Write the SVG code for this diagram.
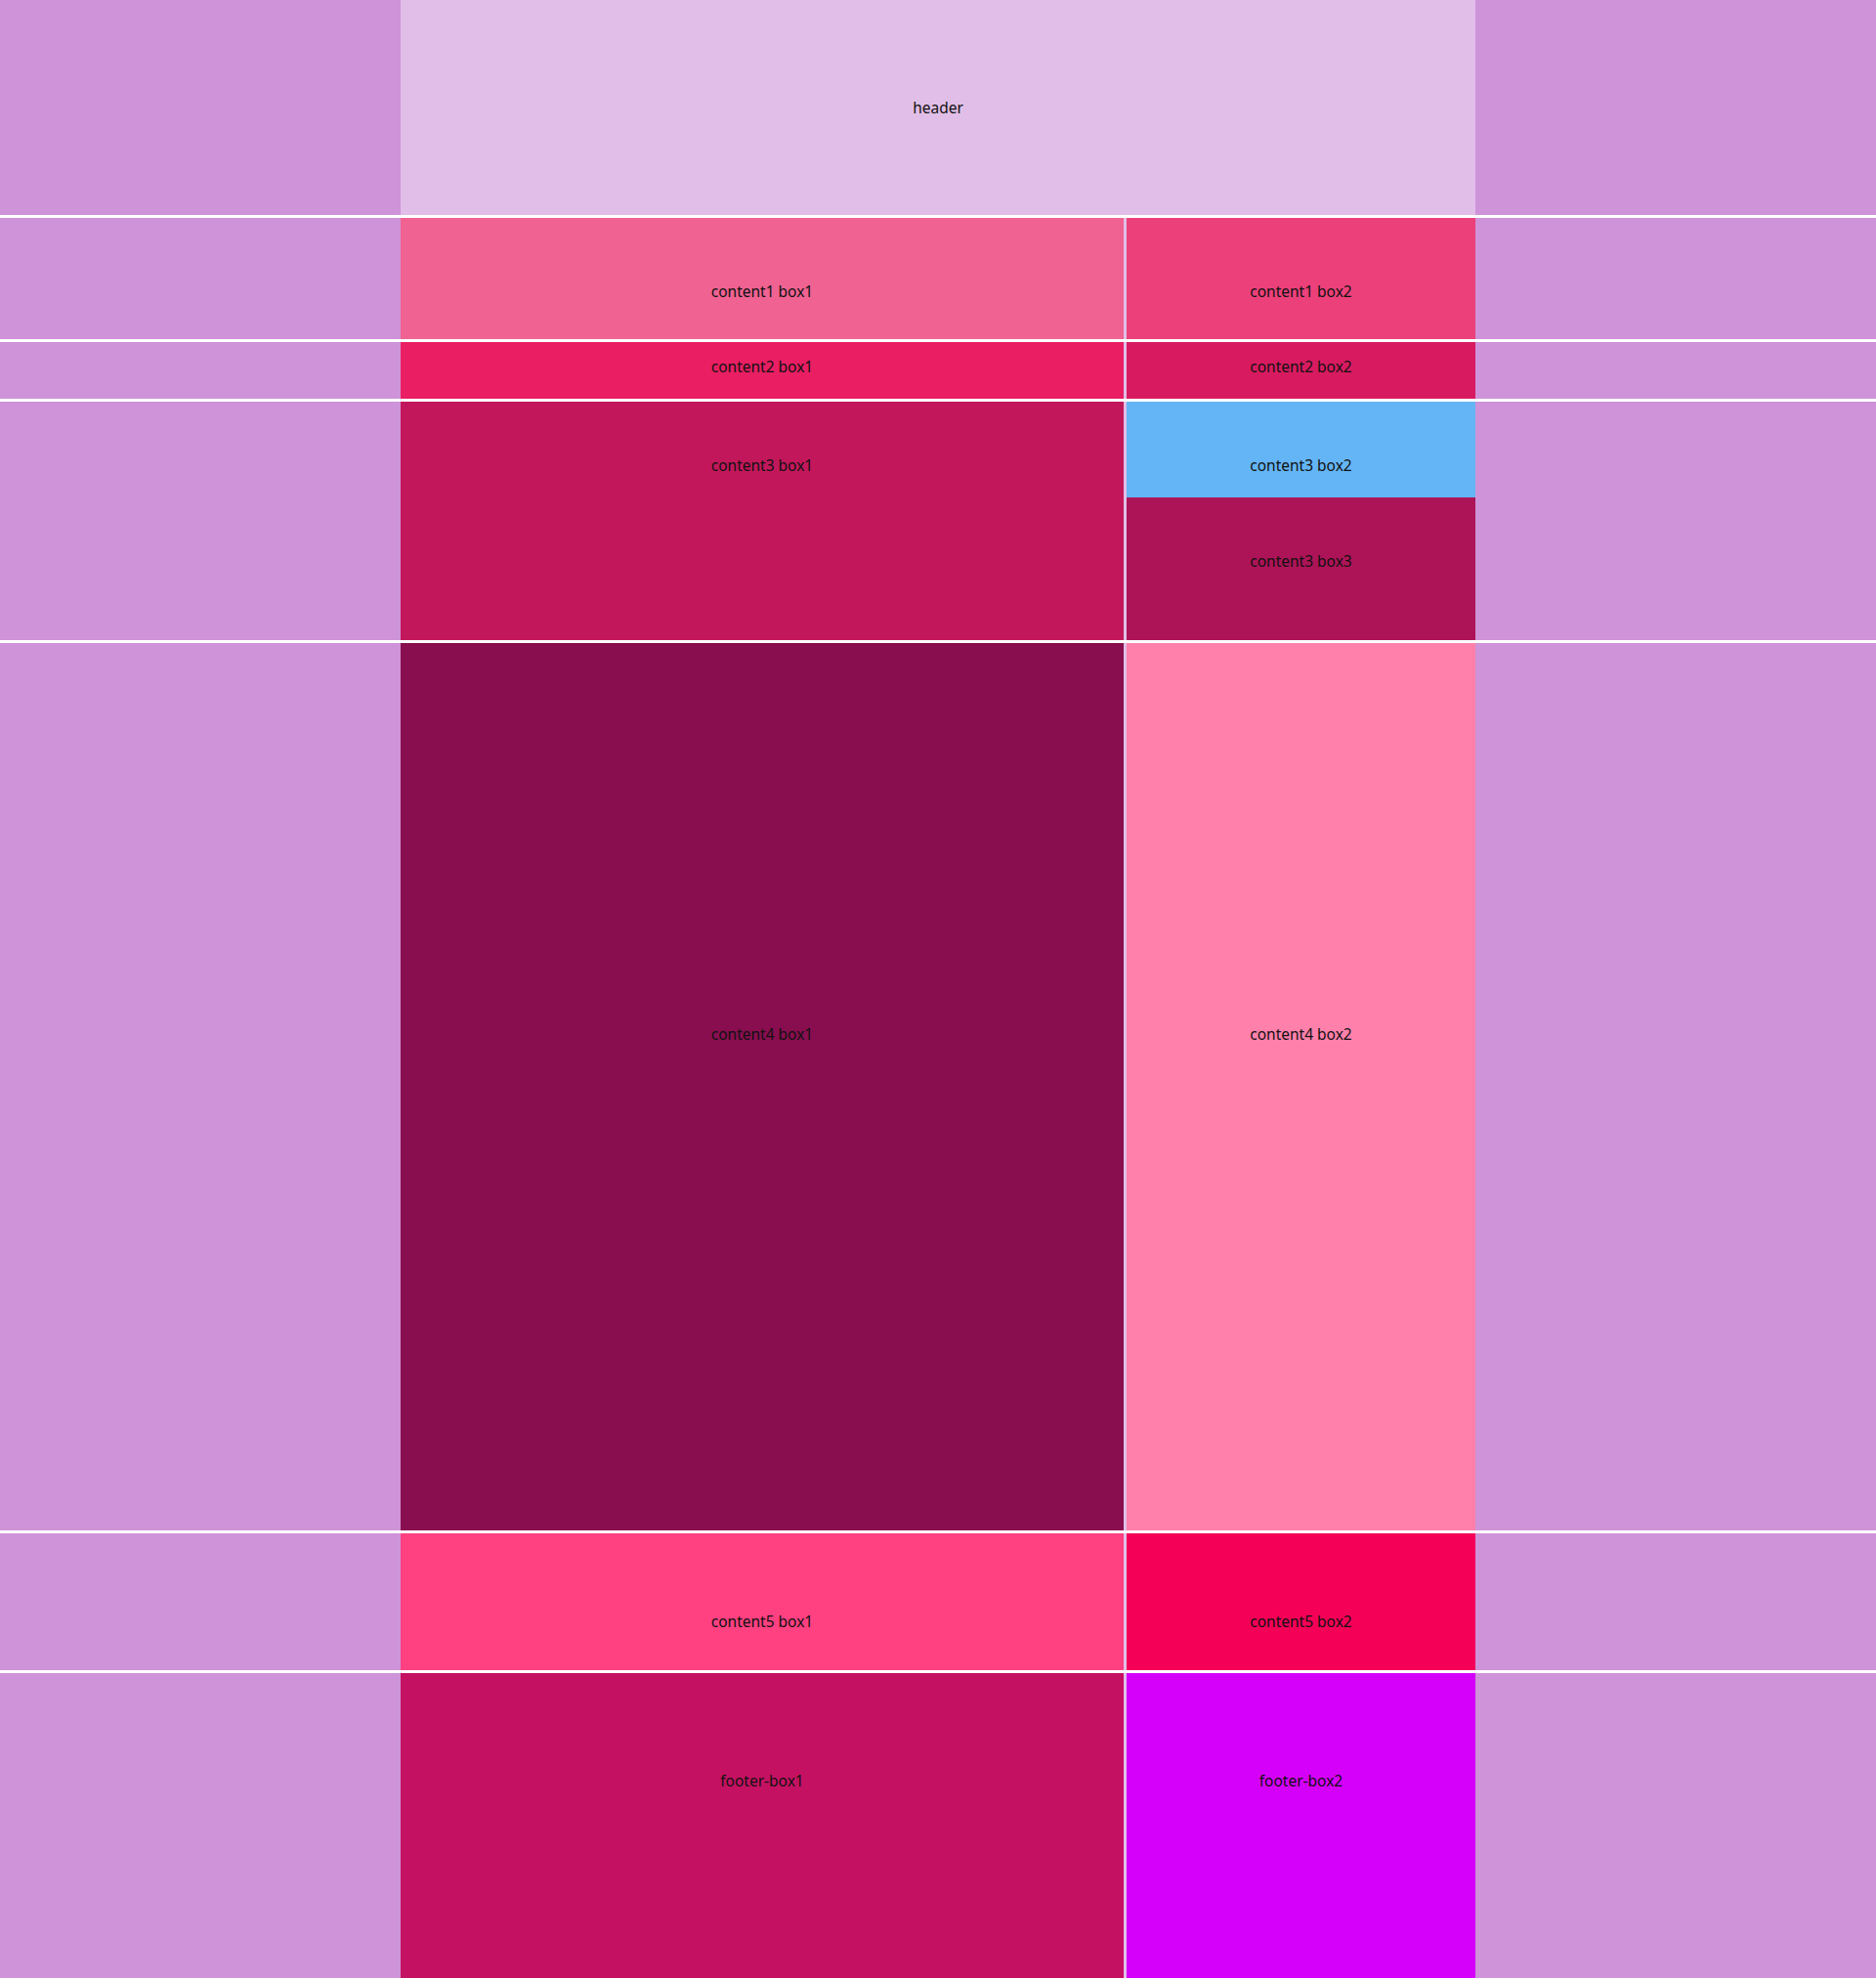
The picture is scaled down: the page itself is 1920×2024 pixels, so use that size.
<svg xmlns="http://www.w3.org/2000/svg" width="1920" height="2024" viewBox="0 0 1920 2024">
<style>
.side{fill:#ce93d8}
.gap{fill:#e1bee7}
text{font-family:"Noto Sans","Open Sans","DejaVu Sans",sans-serif;font-size:15.5px;fill:#111;text-anchor:middle}
</style>
<rect x="0" y="0" width="1920" height="2024" fill="#ffffff"/>
<g id="sides">
<rect class="side" x="0" y="0" width="410" height="220"/><rect class="side" x="1510" y="0" width="410" height="220"/>
<rect class="side" x="0" y="223" width="410" height="124"/><rect class="side" x="1510" y="223" width="410" height="124"/>
<rect class="side" x="0" y="350" width="410" height="58"/><rect class="side" x="1510" y="350" width="410" height="58"/>
<rect class="side" x="0" y="411" width="410" height="244"/><rect class="side" x="1510" y="411" width="410" height="244"/>
<rect class="side" x="0" y="658" width="410" height="908"/><rect class="side" x="1510" y="658" width="410" height="908"/>
<rect class="side" x="0" y="1569" width="410" height="140"/><rect class="side" x="1510" y="1569" width="410" height="140"/>
<rect class="side" x="0" y="1712" width="410" height="312"/><rect class="side" x="1510" y="1712" width="410" height="312"/>
</g>
<g id="gaps">
<rect class="gap" x="1150" y="223" width="3" height="124"/>
<rect class="gap" x="1150" y="350" width="3" height="58"/>
<rect class="gap" x="1150" y="411" width="3" height="244"/>
<rect class="gap" x="1150" y="658" width="3" height="908"/>
<rect class="gap" x="1150" y="1569" width="3" height="140"/>
<rect class="gap" x="1150" y="1712" width="3" height="312"/>
</g>
<g id="header"><rect x="410" y="0" width="1100" height="220" fill="#e1bee7"/><text x="960" y="116">header</text></g>
<g id="content1-box1"><rect x="410" y="223" width="740" height="124" fill="#f06292"/><text x="780" y="304">content1 box1</text></g>
<g id="content1-box2"><rect x="1153" y="223" width="357" height="124" fill="#ec407a"/><text x="1331.5" y="304">content1 box2</text></g>
<g id="content2-box1"><rect x="410" y="350" width="740" height="58" fill="#e91e63"/><text x="780" y="381">content2 box1</text></g>
<g id="content2-box2"><rect x="1153" y="350" width="357" height="58" fill="#d81b60"/><text x="1331.5" y="381">content2 box2</text></g>
<g id="content3-box1"><rect x="410" y="411" width="740" height="244" fill="#c2185b"/><text x="780" y="482">content3 box1</text></g>
<g id="content3-box2"><rect x="1153" y="411" width="357" height="98" fill="#64b5f6"/><text x="1331.5" y="482">content3 box2</text></g>
<g id="content3-box3"><rect x="1153" y="509" width="357" height="146" fill="#ad1457"/><text x="1331.5" y="580">content3 box3</text></g>
<g id="content4-box1"><rect x="410" y="658" width="740" height="908" fill="#880e4f"/><text x="780" y="1064">content4 box1</text></g>
<g id="content4-box2"><rect x="1153" y="658" width="357" height="908" fill="#ff80ab"/><text x="1331.5" y="1064">content4 box2</text></g>
<g id="content5-box1"><rect x="410" y="1569" width="740" height="140" fill="#ff4081"/><text x="780" y="1665">content5 box1</text></g>
<g id="content5-box2"><rect x="1153" y="1569" width="357" height="140" fill="#f50057"/><text x="1331.5" y="1665">content5 box2</text></g>
<g id="footer-box1"><rect x="410" y="1712" width="740" height="312" fill="#c51162"/><text x="780" y="1828">footer-box1</text></g>
<g id="footer-box2"><rect x="1153" y="1712" width="357" height="312" fill="#d500f9"/><text x="1331.5" y="1828">footer-box2</text></g>
<g id="connectors"/>
</svg>
